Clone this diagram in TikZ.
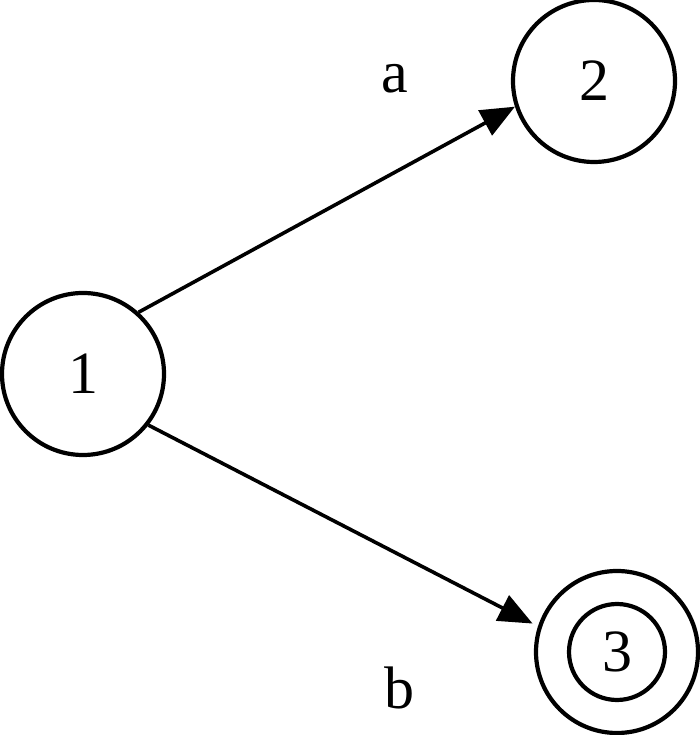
\documentclass[tikz,border=0pt]{standalone}
\usepackage{fontspec}
\setmainfont{Liberation Serif}
\usetikzlibrary{arrows.meta}
\begin{document}
\begin{tikzpicture}[x=1pt,y=1pt,
  state/.style={circle,draw,line width=4.2pt,inner sep=0pt,minimum size=162pt,font=\fontsize{60}{72}\selectfont},
  inner/.style={circle,draw,line width=4.2pt,inner sep=0pt,minimum size=96pt,font=\fontsize{60}{72}\selectfont},
  edge/.style={line width=3.6pt,-{Triangle[length=34pt,width=28pt]}},
  lbl/.style={anchor=base,inner sep=0pt,font=\fontsize{60}{72}\selectfont}]
\useasboundingbox (0,0) rectangle (700,735);
\node[state] (n1) at (83,361) {1};
\node[state] (n2) at (594,654) {2};
\node[state] (n3o) at (617,83) {};
\node[inner] (n3) at (617,83) {3};
\draw[edge] (n1.48) -- (n2.198);
\draw[edge,shorten >=6pt] (n1.-38) -- (n3o.162);
\node[lbl] (la) at (395,642) {a};
\node[lbl] (lb) at (399,26) {b};
\end{tikzpicture}
\end{document}
